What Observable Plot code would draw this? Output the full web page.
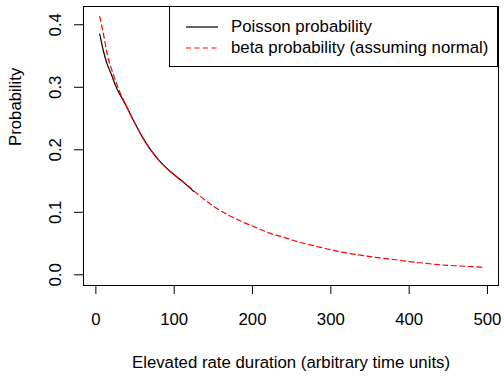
<!DOCTYPE html>
<html>
<head>
<meta charset="utf-8">
<script src="https://cdn.jsdelivr.net/npm/d3@7"></script>
<script src="https://cdn.jsdelivr.net/npm/@observablehq/plot@0.6"></script>
<style>
  html, body { margin: 0; padding: 0; background: #fff; }
  #wrap { position: relative; width: 504px; height: 376px; font-family: "Liberation Sans", Arial, sans-serif; }
  #legend { position: absolute; left: 169px; top: 6px; width: 329px; height: 61px; box-sizing: border-box;
            border: 1px solid #000; background: #fff; font-size: 16.8px; color: #000; }
  .lrow { position: absolute; left: 0; height: 20px; width: 100%; }
  .lrow svg { position: absolute; left: 16px; top: 0; }
  .lrow span { position: absolute; left: 61px; top: 0; line-height: 20px; white-space: nowrap; }
</style>
</head>
<body>
<div id="wrap"></div>
<script>
// Poisson probability (black, solid)
const poissonX = [5, 10, 15, 20, 25, 30, 35, 40, 50, 60, 70, 80, 90, 100, 110, 120, 125];
const poissonY = [0.385, 0.356, 0.335, 0.320, 0.303, 0.290, 0.279, 0.267, 0.242, 0.219, 0.200, 0.184, 0.171, 0.160, 0.150, 0.139, 0.133];

// beta probability (assuming normal) (red, dashed)
const betaX = [5, 10, 15, 20, 25, 30, 35, 40, 50, 60, 70, 80, 90, 100, 110, 120, 130, 140, 150, 160, 170, 180, 190, 200,
               220, 240, 260, 280, 300, 320, 340, 360, 380, 400, 420, 440, 460, 480, 495];
const betaY = [0.413, 0.383, 0.350, 0.329, 0.311, 0.294, 0.280, 0.267, 0.242, 0.219, 0.200, 0.184, 0.171, 0.160, 0.150, 0.140, 0.129, 0.119, 0.110, 0.102, 0.095, 0.089, 0.083, 0.078,
               0.0675, 0.060, 0.052, 0.046, 0.040, 0.035, 0.031, 0.0275, 0.0245, 0.021, 0.0185, 0.016, 0.0145, 0.013, 0.012];

const xTicks = [0, 100, 200, 300, 400, 500];
const yTicks = [0.0, 0.1, 0.2, 0.3, 0.4];
const yTickLabels = ["0.0", "0.1", "0.2", "0.3", "0.4"];

const xTitle = "Elevated rate duration (arbitrary time units)";
const yTitle = "Probability";

const legendLabels = ["Poisson probability", "beta probability (assuming normal)"];
const legendColors = ["#000000", "#ff0000"];
const legendDash = [null, "5,3.5"];

const poisson = poissonX.map((x, i) => ({x, y: poissonY[i]}));
const beta = betaX.map((x, i) => ({x, y: betaY[i]}));

const chart = Plot.plot({
  width: 504,
  height: 376,
  marginTop: 6,
  marginBottom: 91,
  marginLeft: 83,
  marginRight: 6,
  style: { fontFamily: "Liberation Sans, Arial, sans-serif", fontSize: "16.8px", color: "#000", background: "#fff" },
  x: { domain: [-15.8, 514.1] },
  y: { domain: [-0.0171, 0.4292] },
  marks: [
    Plot.axisX({ ticks: xTicks, tickSize: 9, tickPadding: 19, tickFormat: d => String(d), label: null, fontSize: 16.8 }),
    Plot.axisY({ ticks: yTicks, tickSize: 9, tickFormat: () => "", label: null }),
    Plot.text(yTicks, { y: d => d, text: (d, i) => yTickLabels[i], frameAnchor: "left", dx: -28, rotate: -90, lineAnchor: "middle", textAnchor: "middle", fontSize: 16.8 }),
    Plot.text([xTitle], { text: d => d, frameAnchor: "bottom", dy: 77, lineAnchor: "middle", fontSize: 16.8 }),
    Plot.text([yTitle], { text: d => d, frameAnchor: "left", dx: -68, rotate: -90, lineAnchor: "middle", fontSize: 16.8 }),
    Plot.line(poisson, { x: "x", y: "y", stroke: legendColors[0], strokeWidth: 1.2, curve: "monotone-x" }),
    Plot.line(beta, { x: "x", y: "y", stroke: legendColors[1], strokeWidth: 1.2, strokeDasharray: legendDash[1], curve: "monotone-x" }),
    Plot.frame({ stroke: "#000", strokeWidth: 1 })
  ]
});

const wrap = document.getElementById("wrap");
wrap.appendChild(chart);

const legend = document.createElement("div");
legend.id = "legend";
const rowTops = [10, 31];
legendLabels.forEach((lab, i) => {
  const row = document.createElement("div");
  row.className = "lrow";
  row.style.top = rowTops[i] + "px";
  const ns = "http://www.w3.org/2000/svg";
  const svg = document.createElementNS(ns, "svg");
  svg.setAttribute("width", "32");
  svg.setAttribute("height", "20");
  const ln = document.createElementNS(ns, "line");
  ln.setAttribute("x1", "0"); ln.setAttribute("x2", "32");
  ln.setAttribute("y1", "10"); ln.setAttribute("y2", "10");
  ln.setAttribute("stroke", legendColors[i]);
  ln.setAttribute("stroke-width", "1.2");
  if (legendDash[i]) ln.setAttribute("stroke-dasharray", legendDash[i]);
  svg.appendChild(ln);
  const sp = document.createElement("span");
  sp.textContent = lab;
  row.appendChild(svg);
  row.appendChild(sp);
  legend.appendChild(row);
});
wrap.appendChild(legend);
</script>
</body>
</html>
